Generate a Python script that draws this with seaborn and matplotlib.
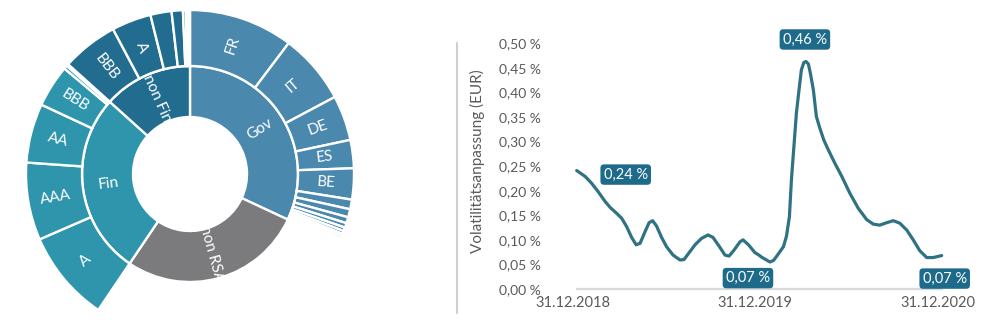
import math
import matplotlib
matplotlib.use("Agg")
import matplotlib.pyplot as plt
from matplotlib.lines import Line2D
from matplotlib.transforms import ScaledTranslation
import pandas as pd
import seaborn as sns

# ---------------- data ----------------
# Sunburst: asset split (inner ring) and breakdown (outer ring), shares in %
inner_labels = ["Gov", "non RSA", "Fin", "non Fin"]
gov_labels = ["FR", "IT", "DE", "ES", "BE"] + [""] * 11
gov_values = [10.28, 6.94, 4.44, 2.78, 3.06,
              0.95, 0.80, 0.60, 0.45, 0.35, 0.30, 0.25, 0.25, 0.20, 0.15, 0.14]
non_rsa_value = 27.5
fin_labels = ["A", "AAA", "AA", "BBB", "", ""]
fin_values = [9.03, 7.64, 5.83, 4.17, 0.35, 0.20]
nonfin_labels = ["BBB", "A", "", "", "", "", ""]
nonfin_values = [5.56, 3.89, 2.08, 1.11, 0.28, 0.19, 0.22]

# Volatility adjustment (EUR) in %
va_dates = [
    "2018-12-31", "2019-01-17", "2019-01-30", "2019-02-12", "2019-02-26",
    "2019-03-08", "2019-03-21", "2019-03-31", "2019-04-10", "2019-04-20",
    "2019-04-29", "2019-05-07", "2019-05-17", "2019-05-25", "2019-06-01",
    "2019-06-09", "2019-06-19", "2019-06-29", "2019-07-12", "2019-07-26",
    "2019-08-03", "2019-08-11", "2019-08-25", "2019-09-07", "2019-09-20",
    "2019-09-30", "2019-10-13", "2019-10-24", "2019-11-01", "2019-11-11",
    "2019-11-23", "2019-11-29", "2019-12-10", "2019-12-23", "2019-12-31",
    "2020-01-05", "2020-01-22", "2020-01-29", "2020-02-04", "2020-02-18",
    "2020-02-24", "2020-03-01", "2020-03-05", "2020-03-10", "2020-03-15",
    "2020-03-21", "2020-03-25", "2020-03-30", "2020-04-03", "2020-04-08",
    "2020-04-12", "2020-04-18", "2020-04-24", "2020-05-01", "2020-05-09",
    "2020-05-18", "2020-05-31", "2020-06-14", "2020-06-30", "2020-07-17",
    "2020-08-03", "2020-08-16", "2020-08-29", "2020-09-12", "2020-09-25",
    "2020-10-08", "2020-10-22", "2020-11-04", "2020-11-17", "2020-12-01",
    "2020-12-14", "2020-12-31",
]
va_values = [
    0.241, 0.229, 0.215, 0.198, 0.178,
    0.166, 0.154, 0.144, 0.127, 0.105,
    0.090, 0.093, 0.117, 0.135, 0.139,
    0.128, 0.105, 0.086, 0.069, 0.059,
    0.060, 0.071, 0.090, 0.103, 0.110,
    0.105, 0.086, 0.069, 0.067, 0.079,
    0.096, 0.100, 0.090, 0.074, 0.069,
    0.065, 0.055, 0.058, 0.066, 0.086,
    0.107, 0.147, 0.222, 0.290, 0.358,
    0.412, 0.446, 0.461, 0.463, 0.458,
    0.439, 0.405, 0.351, 0.327, 0.303,
    0.283, 0.256, 0.229, 0.195, 0.164,
    0.141, 0.132, 0.130, 0.135, 0.139,
    0.134, 0.120, 0.100, 0.078, 0.064,
    0.064, 0.068,
]
x_ticks = ["2018-12-31", "2019-12-31", "2020-12-31"]
y_ticks = [0.00, 0.05, 0.10, 0.15, 0.20, 0.25, 0.30, 0.35, 0.40, 0.45, 0.50]
labelled_dates = ["2018-12-31", "2019-12-31", "2020-12-31"]

# ---------------- style ----------------
sns.set_style("white")
plt.rcParams["font.family"] = ["Lato", "DejaVu Sans"]

C_GOV = "#4a88ae"
C_NONRSA = "#7b7b7d"
C_FIN = "#2e95ad"
C_NONFIN = "#226d8f"
C_LINE = "#2f7283"
C_BOX = "#1d6a8b"
C_TEXT = "#5a5a5a"

W, H = 1000, 328
fig = plt.figure(figsize=(W / 100, H / 100), dpi=100)
fig.patch.set_facecolor("white")

# ---------------- sunburst ----------------
R_OUT_PX, R_MID_PX, R_HOLE_PX = 164, 108, 57
CX, CY = 190, 174
HALF = 172
ax_sb = fig.add_axes([(CX - HALF) / W, (H - CY - HALF) / H, 2 * HALF / W, 2 * HALF / H])
r_mid = R_MID_PX / R_OUT_PX
r_hole = R_HOLE_PX / R_OUT_PX

mid_values = [sum(gov_values), non_rsa_value, sum(fin_values), sum(nonfin_values)]
mid_colors = [C_GOV, C_NONRSA, C_FIN, C_NONFIN]
edge = dict(edgecolor="white", linewidth=1.7)

w_in, _ = ax_sb.pie(mid_values, radius=r_mid, colors=mid_colors, startangle=90,
                    counterclock=False, wedgeprops=dict(width=r_mid - r_hole, **edge))

outer_values = gov_values + [non_rsa_value] + fin_values + nonfin_values
outer_colors = ([C_GOV] * len(gov_values) + [C_NONRSA] + [C_FIN] * len(fin_values)
                + [C_NONFIN] * len(nonfin_values))
outer_labels = gov_labels + [""] + fin_labels + nonfin_labels
w_out, _ = ax_sb.pie(outer_values, radius=1.0, colors=outer_colors, startangle=90,
                     counterclock=False, wedgeprops=dict(width=1.0 - r_mid, **edge))
# the non-RSA block has no breakdown
w_out[len(gov_values)].set_visible(False)


def ring_label(ax, wedge, text, radius):
    mid = (wedge.theta1 + wedge.theta2) / 2.0
    x = radius * math.cos(math.radians(mid))
    y = radius * math.sin(math.radians(mid))
    rot = (mid + 180) % 360 - 180
    if rot > 90:
        rot -= 180
    elif rot < -90:
        rot += 180
    ax.text(x, y, text, rotation=rot, rotation_mode="anchor", ha="center",
            va="center", color="white", fontsize=11)


for wdg, lab in zip(w_in, inner_labels):
    ring_label(ax_sb, wdg, lab, (r_hole + r_mid) / 2)
for wdg, lab in zip(w_out, outer_labels):
    if lab:
        ring_label(ax_sb, wdg, lab, (r_mid + 1.0) / 2)

lim = HALF / R_OUT_PX
ax_sb.set_xlim(-lim, lim)
ax_sb.set_ylim(-lim, lim)
ax_sb.set_aspect("equal")
ax_sb.axis("off")

# ---------------- separator ----------------
fig.add_artist(Line2D([456.5 / W, 456.5 / W], [1 - 43 / H, 1 - 313 / H],
                      transform=fig.transFigure, color="#cfcfcf", lw=1.5))

# ---------------- line chart ----------------
X0, X1 = 576.7, 941.7
Y0, Y1 = 289.0, 43.3
ax = fig.add_axes([X0 / W, (H - Y0) / H, (X1 - X0) / W, (Y0 - Y1) / H])

df = pd.DataFrame({"Datum": pd.to_datetime(va_dates), "VA": va_values})
sns.lineplot(data=df, x="Datum", y="VA", ax=ax, color=C_LINE, linewidth=2.3)
for ln in ax.lines:
    ln.set_clip_on(False)
    ln.set_solid_capstyle("round")
    ln.set_solid_joinstyle("round")

ax.set_xlim(df["Datum"].iloc[0], df["Datum"].iloc[-1])
ax.set_ylim(0, 0.5)


def pct(v):
    return f"{v:.2f} %".replace(".", ",")


ax.set_yticks(y_ticks)
ax.set_yticklabels([pct(v) for v in y_ticks])
xt = pd.to_datetime(x_ticks)
ax.set_xticks(xt)
ax.set_xticklabels([d.strftime("%d.%m.%Y") for d in xt])
ax.tick_params(axis="y", length=0, pad=26, labelsize=10, labelcolor=C_TEXT)
ax.tick_params(axis="x", length=0, pad=5, labelsize=10.5, labelcolor=C_TEXT)
shift = ScaledTranslation(-4 / 100, 0, fig.dpi_scale_trans)
for lbl in ax.get_xticklabels():
    lbl.set_transform(lbl.get_transform() + shift)

ax.set_xlabel("")
ax.set_ylabel("Volatilitätsanpassung (EUR)", fontsize=11, color=C_TEXT)
ax.yaxis.set_label_coords((485 - X0) / (X1 - X0), (Y0 - 161.5) / (Y0 - Y1))

for side in ["top", "right", "left"]:
    ax.spines[side].set_visible(False)
ax.spines["bottom"].set_color("#d9d9d9")
ax.spines["bottom"].set_linewidth(1.6)
ax.grid(False)

# value call-outs
box = dict(boxstyle="round,pad=0.22,rounding_size=0.25", fc=C_BOX, ec="none")
peak_idx = int(df["VA"].idxmax())
callouts = [
    (df.index[df["Datum"] == pd.Timestamp(labelled_dates[0])][0], (49, -4)),
    (peak_idx, (-1, 22)),
    (df.index[df["Datum"] == pd.Timestamp(labelled_dates[1])][0], (-11, -23)),
    (df.index[df["Datum"] == pd.Timestamp(labelled_dates[2])][0], (3, -23)),
]
for idx, (dx, dy) in callouts:
    ax.annotate(pct(df["VA"].iloc[idx]), xy=(df["Datum"].iloc[idx], df["VA"].iloc[idx]),
                xytext=(dx, dy), textcoords="offset pixels", ha="center", va="center",
                color="white", fontsize=10.5, bbox=box, annotation_clip=False)

fig.savefig("out.png", dpi=100, facecolor="white")
